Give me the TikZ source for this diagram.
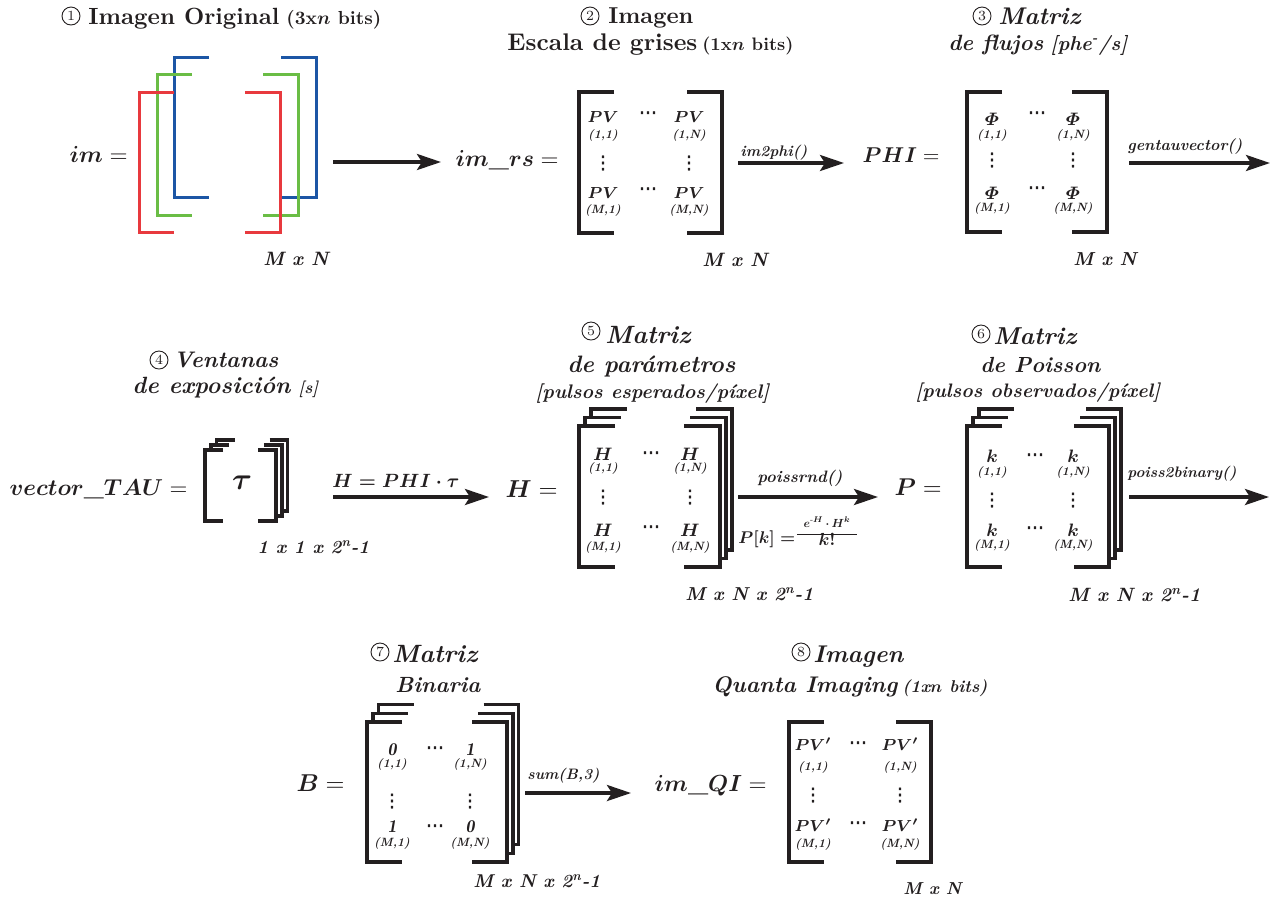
\documentclass[tikz,border=0pt]{standalone}
\usepackage{amsmath}
\usepackage{graphicx}
\usepackage{fontspec}
\newfontfamily\djv{DejaVu Sans}[FakeBold=2]
\usetikzlibrary{arrows.meta}
\definecolor{ink}{HTML}{231F20}
\definecolor{rgbR}{HTML}{E8393E}
\definecolor{rgbG}{HTML}{6ABD45}
\definecolor{rgbB}{HTML}{1C56A5}
\newcommand\fitw[2]{\resizebox{\dimexpr #1pt/2\relax}{!}{#2}}
\newcommand\myvdots{{\djv ⋮}}
\newcommand\mycdots{{\djv ⋯}}
\newcommand\us{\text{\bfseries\_}}
% bracket pair with optional stacked back layers
\newcommand\mbrk[9]{%
  \draw[brk,#9] (#1+#5,#3) -- (#1,#3) -- (#1,#4) -- (#1+#5,#4);
  \draw[brk,#9] (#2-#5,#3) -- (#2,#3) -- (#2,#4) -- (#2-#5,#4);
  \ifnum#6>0
  \foreach \i in {1,...,#6}{
    \draw[brk,#9] (#1+\i*#7,#3-\i*#8+#8) -- (#1+\i*#7,#3-\i*#8) -- (#1+\i*#7+#5,#3-\i*#8);
    \draw[brk,#9] (#2+\i*#7-#5,#3-\i*#8) -- (#2+\i*#7,#3-\i*#8) -- (#2+\i*#7,#4-\i*#8) -- (#2+\i*#7-#7,#4-\i*#8);
  }\fi}
\newcommand\ment[7]{%
  \node[font=\fontsize{#7}{#7}\selectfont\boldmath] (#1) at (#2,#3) {$#4$};
  \node[subx] (#1s) at (#2,#5) {#6};}
\begin{document}
\begin{tikzpicture}[x=0.5pt,y=-0.5pt,
  every node/.style={inner sep=0pt,text=ink},
  brk/.style={draw=ink,line width=1.7pt},
  arr/.style={draw=ink,line width=1.8pt,-{Stealth[length=12pt,width=8pt,inset=2.5pt]}},
  ttl/.style={font=\fontsize{10}{12}\selectfont\bfseries},
  ttli/.style={font=\fontsize{10}{12}\selectfont\bfseries\itshape},
  circn/.style={draw=ink,circle,line width=0.45pt,minimum size=9pt,font=\fontsize{7}{8}\selectfont},
  eqn/.style={font=\fontsize{10}{12}\selectfont,anchor=base east},
  subx/.style={font=\fontsize{6}{6}\selectfont\bfseries\itshape},
  dts/.style={font=\fontsize{9}{10}\selectfont},
  dimn/.style={font=\fontsize{10}{12}\selectfont\bfseries\itshape,anchor=base west},
  lbl/.style={font=\fontsize{10}{12}\selectfont\bfseries\itshape,anchor=base west},
  frm/.style={font=\fontsize{10}{12}\selectfont\boldmath}]
\useasboundingbox (0,0) rectangle (1283,901);

% ---------- titles ----------
\node[circn] (c1) at (71,16) {1};
\node[ttl,anchor=base west] (t1) at (88,24) {\fitw{191}{Imagen Original}\hspace{3.5pt}\fitw{95}{(3x{\boldmath$n$} bits)}};
\node[circn] (c2) at (590,16) {2};
\node[ttl,anchor=base west] (t2) at (608,23) {\fitw{85}{Imagen}};
\node[ttl,anchor=base west] (t2b) at (507,50) {\fitw{190}{Escala de grises}\hspace{2.5pt}\fitw{91}{(1x{\boldmath$n$} bits)}};
\node[circn] (c3) at (982,16) {3};
\node[ttli,anchor=base west] (t3) at (998,24) {\fitw{82}{Matriz}};
\node[ttli,anchor=base west] (t3b) at (948,50) {\fitw{95}{de flujos}\hspace{3.5pt}\fitw{77}{[phe\textsuperscript{-}/s]}};

\node[circn] (c4) at (159,360) {4};
\node[ttli,anchor=base west] (t4) at (173,367) {\fitw{105}{Ventanas}};
\node[ttli,anchor=base west] (t4b) at (132,393) {\fitw{158}{de exposición}\hspace{4pt}\fitw{20}{[s]}};
\node[circn] (c5) at (591,331) {5};
\node[ttli,anchor=base west] (t5) at (605,343) {\fitw{85}{Matriz}};
\node[ttli,anchor=base west] (t5b) at (567,372) {\fitw{168}{de parámetros}};
\node[ttli,anchor=base west] (t5c) at (535,398) {\fitw{234}{[pulsos esperados/píxel]}};
\node[circn] (c6) at (981,334) {6};
\node[ttli,anchor=base west] (t6) at (993,344) {\fitw{83}{Matriz}};
\node[ttli,anchor=base west] (t6b) at (980,372) {\fitw{120}{de Poisson}};
\node[ttli,anchor=base west] (t6c) at (915,397) {\fitw{245}{[pulsos observados/píxel]}};

\node[circn] (c7) at (380,652) {7};
\node[ttli,anchor=base west] (t7) at (392,662) {\fitw{85}{Matriz}};
\node[ttli,anchor=base west] (t7b) at (395,692) {\fitw{85}{Binaria}};
\node[circn] (c8) at (801,652) {8};
\node[ttli,anchor=base west] (t8) at (813,662) {\fitw{90}{Imagen}};
\node[ttli,anchor=base west] (t8b) at (712,692) {\fitw{185}{Quanta Imaging}\hspace{2.5pt}\fitw{85}{(1x{\boldmath$n$} bits)}};

% ---------- equation labels ----------
\node[eqn] (e1) at (128,162) {\fitw{58}{$\boldsymbol{im} =$}};
\node[eqn] (e2) at (559,166) {\fitw{103}{$\boldsymbol{im}\us\boldsymbol{rs} =$}};
\node[eqn] (e3) at (940,162) {\fitw{77}{$\boldsymbol{PHI} =$}};
\node[eqn] (e4) at (188,495) {\fitw{178}{$\boldsymbol{vector}\us\boldsymbol{TAU} =$}};
\node[eqn] (e5) at (558,497) {\fitw{52}{$\boldsymbol{H} =$}};
\node[eqn] (e6) at (942,495) {\fitw{47}{$\boldsymbol{P} =$}};
\node[eqn] (e7) at (345,791) {\fitw{48}{$\boldsymbol{B} =$}};
\node[eqn] (e8) at (767,791) {\fitw{112}{$\boldsymbol{im}\us\boldsymbol{QI} =$}};

% ---------- brackets ----------
\mbrk{174}{316}{57}{197}{35}{0}{0}{0}{draw=rgbB,line width=1.5pt}
\mbrk{157}{298}{74}{215}{35}{0}{0}{0}{draw=rgbG,line width=1.5pt}
\mbrk{139}{280}{92}{232}{35}{0}{0}{0}{draw=rgbR,line width=1.5pt}
\mbrk{579}{722}{92}{233}{35}{0}{0}{0}{}
\mbrk{967}{1107}{92}{232}{35}{0}{0}{0}{}
\mbrk{205}{276}{450}{521}{18}{2}{5.8}{5}{}
\mbrk{579}{720}{426}{567}{36}{2}{6}{8.5}{}
\mbrk{967}{1109}{426}{567}{35}{2}{6}{8.5}{}
\mbrk{367}{507}{722}{862}{35}{2}{5.8}{8.7}{}
\mbrk{789}{931}{722}{862}{35}{0}{0}{0}{}

% ---------- matrix entries ----------
% M2
\ment{pa}{603}{117}{PV}{135}{(1,1)}{8.5}
\ment{pb}{689}{117}{PV}{135}{(1,N)}{8.5}
\ment{pc}{603}{193}{PV}{210}{(M,1)}{8.5}
\ment{pd}{689}{193}{PV}{210}{(M,N)}{8.5}
\node[dts] (ph1) at (648,115) {\mycdots};
\node[dts] (ph2) at (648,191) {\mycdots};
\node[dts] (pv1) at (603,163) {\myvdots};
\node[dts] (pv2) at (689,163) {\myvdots};
% M3
\ment{fa}{992}{119}{\varPhi}{135}{(1,1)}{9.5}
\ment{fb}{1073}{119}{\varPhi}{135}{(1,N)}{9.5}
\ment{fc}{992}{193}{\varPhi}{208}{(M,1)}{9.5}
\ment{fd}{1073}{193}{\varPhi}{208}{(M,N)}{9.5}
\node[dts] (fh1) at (1037,115) {\mycdots};
\node[dts] (fh2) at (1037,190) {\mycdots};
\node[dts] (fv1) at (992,160) {\myvdots};
\node[dts] (fv2) at (1073,160) {\myvdots};
% tau
\node[font=\fontsize{10}{12}\selectfont\boldmath] (tau) at (242,483) {\fitw{20}{$\tau$}};
% M5
\ment{ha}{603}{454}{H}{468}{(1,1)}{9}
\ment{hb}{690}{454}{H}{468}{(1,N)}{9}
\ment{hc}{603}{530}{H}{547}{(M,1)}{9}
\ment{hd}{690}{530}{H}{547}{(M,N)}{9}
\node[dts] (hh1) at (651,455) {\mycdots};
\node[dts] (hh2) at (651,529) {\mycdots};
\node[dts] (hv1) at (603,497) {\myvdots};
\node[dts] (hv2) at (690,497) {\myvdots};
% M6
\ment{ka}{992}{456}{k}{472}{(1,1)}{9.5}
\ment{kb}{1073}{456}{k}{472}{(1,N)}{9.5}
\ment{kc}{992}{530}{k}{545}{(M,1)}{9.5}
\ment{kd}{1073}{530}{k}{545}{(M,N)}{9.5}
\node[dts] (kh1) at (1035,457) {\mycdots};
\node[dts] (kh2) at (1035,530) {\mycdots};
\node[dts] (kv1) at (992,500) {\myvdots};
\node[dts] (kv2) at (1073,500) {\myvdots};
% M7
\ment{ba}{392}{750}{\mathit{0}}{764}{(1,1)}{9}
\ment{bb}{470}{750}{\mathit{1}}{764}{(1,N)}{9}
\ment{bc}{392}{827}{\mathit{1}}{843}{(M,1)}{9}
\ment{bd}{470}{827}{\mathit{0}}{843}{(M,N)}{9}
\node[dts] (bh1) at (435,750) {\mycdots};
\node[dts] (bh2) at (435,828) {\mycdots};
\node[dts] (bv1) at (392,801) {\myvdots};
\node[dts] (bv2) at (470,801) {\myvdots};
% M8
\ment{qa}{813}{744}{PV'}{767}{(1,1)}{8.5}
\ment{qb}{900}{744}{PV'}{767}{(1,N)}{8.5}
\ment{qc}{813}{825}{PV'}{844}{(M,1)}{8.5}
\ment{qd}{900}{825}{PV'}{844}{(M,N)}{8.5}
\node[dts] (qh1) at (858,745) {\mycdots};
\node[dts] (qh2) at (858,825) {\mycdots};
\node[dts] (qv1) at (813,795) {\myvdots};
\node[dts] (qv2) at (900,795) {\myvdots};

% ---------- dimensions ----------
\node[dimn] (d1) at (263,265) {\fitw{65}{M x N}};
\node[dimn] (d2) at (702,266) {\fitw{65}{M x N}};
\node[dimn] (d3) at (1073,265) {\fitw{63}{M x N}};
\node[dimn] (d4) at (257,553) {\fitw{112}{1 x 1 x 2\textsuperscript{n}-1}};
\node[dimn] (d5) at (685,600) {\fitw{128}{M x N x 2\textsuperscript{n}-1}};
\node[dimn] (d6) at (1068,601) {\fitw{132}{M x N x 2\textsuperscript{n}-1}};
\node[dimn] (d7) at (473,887) {\fitw{127}{M x N x 2\textsuperscript{n}-1}};
\node[dimn] (d8) at (903,894) {\fitw{58}{M x N}};

% ---------- arrows ----------
\coordinate (a1s) at (333,162); \coordinate (a1e) at (441,162);
\coordinate (a2s) at (738,163); \coordinate (a2e) at (844,163);
\coordinate (a3s) at (1129,163); \coordinate (a3e) at (1270,163);
\coordinate (a4s) at (333,497); \coordinate (a4e) at (489,497);
\coordinate (a5s) at (738,497); \coordinate (a5e) at (878,497);
\coordinate (a6s) at (1129,497); \coordinate (a6e) at (1269,497);
\coordinate (a7s) at (525,793); \coordinate (a7e) at (631,793);
\draw[arr] (a1s) -- (a1e);
\draw[arr] (a2s) -- (a2e);
\draw[arr] (a3s) -- (a3e);
\draw[arr] (a4s) -- (a4e);
\draw[arr] (a5s) -- (a5e);
\draw[arr] (a6s) -- (a6e);
\draw[arr] (a7s) -- (a7e);

% ---------- arrow labels ----------
\node[lbl] (l2) at (740,156) {\fitw{67}{im2phi()}};
\node[lbl] (l3) at (1127,150) {\fitw{115}{gentauvector()}};
\node[lbl] (l4) at (332,487) {\fitw{127}{$\boldsymbol{H = PHI\cdot\tau}$}};
\node[lbl] (l5) at (757,482) {\fitw{85}{poissrnd()}};
\node[lbl] (l6) at (1127,477) {\fitw{109}{poiss2binary()}};
\node[lbl] (l7) at (527,779) {\fitw{72}{sum(B,3)}};
% Poisson formula
\node[frm,anchor=base west] (fp) at (738,543) {\fitw{57}{$P[k] =$}};
\node[frm,anchor=base] (fn) at (827,527) {\fitw{47}{$e^{\text{-}H}\,{\cdot}\,H^{k}$}};
\node[frm,anchor=base] (fd) at (827,545) {\fitw{17}{$k!$}};
\coordinate (fb1) at (797,534); \coordinate (fb2) at (857,534);
\draw[draw=ink,line width=0.5pt] (fb1) -- (fb2);
\end{tikzpicture}
\end{document}
